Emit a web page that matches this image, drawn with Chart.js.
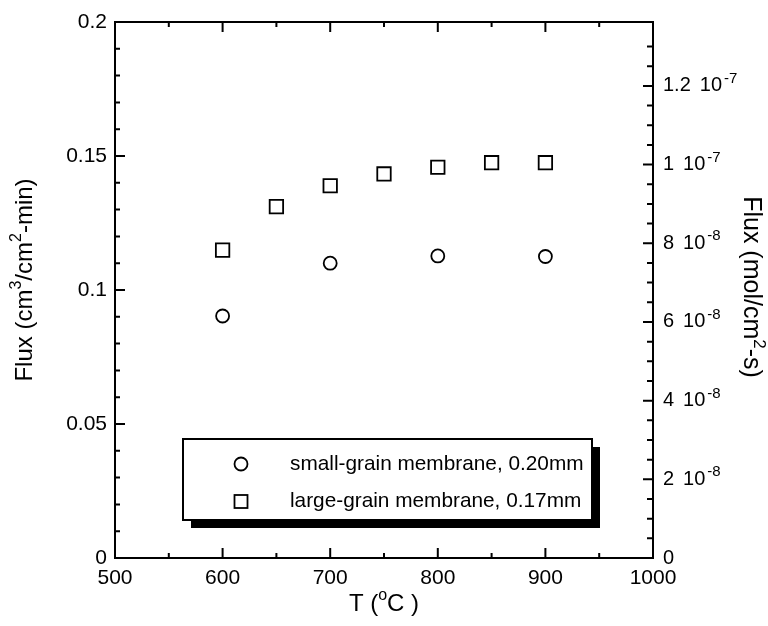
<!DOCTYPE html>
<html>
<head>
<meta charset="utf-8">
<script src="https://cdn.jsdelivr.net/npm/chart.js@4.4.1/dist/chart.umd.min.js"></script>
<style>
  html, body { margin: 0; padding: 0; background: #fff; }
  #wrap { width: 768px; height: 626px; position: relative; }
</style>
</head>
<body>
<div id="wrap"><canvas id="chart" width="768" height="626"></canvas></div>
<script>
// ----------- Data -----------
const smallTemps = [600, 700, 800, 900];
const smallFlux = [0.0903, 0.110, 0.1127, 0.1125];
const largeTemps = [600, 650, 700, 750, 800, 850, 900];
const largeFlux = [0.1149, 0.1311, 0.1389, 0.1433, 0.1458, 0.1475, 0.1475];
const legendLabels = ["small-grain membrane, 0.20mm", "large-grain membrane, 0.17mm"];
const rightTickValues = [0, 2e-8, 4e-8, 6e-8, 8e-8, 1e-7, 1.2e-7];
const rightTickMantissa = ["0", "2", "4", "6", "8", "1", "1.2"];
const rightTickExp = ["", "-8", "-8", "-8", "-8", "-7", "-7"];

// cm3(25C)/min -> mol/s
const rightMax = 0.2 / (24465 * 60);

const FONT = "'Liberation Sans', Arial, sans-serif";
const tickFont = { family: FONT, size: 21 };

const near = (v, step) => Math.abs(v / step - Math.round(v / step)) < 1e-6;

// ----------- Custom drawing: inward ticks, frame, titles, legend -----------
const framePlugin = {
  id: 'frame',
  afterDraw(chart) {
    const ctx = chart.ctx;
    const { left, right, top, bottom } = chart.chartArea;
    const xs = chart.scales.x, yl = chart.scales.y, yr = chart.scales.y2;
    ctx.save();
    ctx.strokeStyle = '#000';
    ctx.fillStyle = '#000';
    ctx.lineWidth = 2;
    ctx.strokeRect(left, top, right - left, bottom - top);

    ctx.beginPath();
    xs.ticks.forEach(t => {
      const px = xs.getPixelForValue(t.value);
      const len = near(t.value, 100) ? 10 : 5;
      ctx.moveTo(px, bottom); ctx.lineTo(px, bottom - len);
      ctx.moveTo(px, top); ctx.lineTo(px, top + len);
    });
    yl.ticks.forEach(t => {
      const py = yl.getPixelForValue(t.value);
      const len = near(t.value, 0.05) ? 10 : 5;
      ctx.moveTo(left, py); ctx.lineTo(left + len, py);
    });
    yr.ticks.forEach(t => {
      if (!near(t.value, 5e-9)) return;
      const py = yr.getPixelForValue(t.value);
      const len = near(t.value, 2e-8) ? 10 : 6;
      ctx.moveTo(right, py); ctx.lineTo(right - len, py);
    });
    ctx.stroke();

    // right tick labels with exponents
    ctx.textBaseline = 'middle';
    ctx.textAlign = 'left';
    rightTickValues.forEach((v, i) => {
      const py = yr.getPixelForValue(v);
      ctx.font = '20px ' + FONT;
      let x = right + 10;
      ctx.fillText(rightTickMantissa[i], x, py);
      if (!rightTickExp[i]) return;
      x += ctx.measureText(rightTickMantissa[i]).width + 9;
      ctx.fillText('10', x, py);
      x += ctx.measureText('10').width + 2;
      ctx.font = '15px ' + FONT;
      ctx.fillText(rightTickExp[i], x, py - 7);
    });

    // axis titles
    const drawSup = (parts, x, y, size) => {
      const sup = Math.round(size * 0.67);
      let total = 0;
      parts.forEach(p => { ctx.font = (p[1] ? sup : size) + 'px ' + FONT; total += ctx.measureText(p[0]).width; });
      let cx = x - total / 2;
      ctx.textAlign = 'left';
      parts.forEach(p => {
        ctx.font = (p[1] ? sup : size) + 'px ' + FONT;
        ctx.fillText(p[0], cx, p[1] ? y - 8 : y);
        cx += ctx.measureText(p[0]).width;
      });
    };
    drawSup([['T (', false], ['o', true], ['C )', false]], (left + right) / 2, 604, 24);

    ctx.save();
    ctx.translate(25, 280);
    ctx.rotate(-Math.PI / 2);
    drawSup([['Flux (cm', false], ['3', true], ['/cm', false], ['2', true], ['-min)', false]], 0, 0, 24);
    ctx.restore();

    ctx.save();
    ctx.translate(751, 287);
    ctx.rotate(Math.PI / 2);
    drawSup([['Flux (mol/cm', false], ['2', true], ['-s)', false]], 0, 0, 25);
    ctx.restore();

    // legend box with shadow
    const bx = 183, by = 439, bw = 409, bh = 81, sh = 8;
    ctx.fillRect(bx + sh, by + sh, bw, bh);
    ctx.fillStyle = '#fff';
    ctx.fillRect(bx, by, bw, bh);
    ctx.fillStyle = '#000';
    ctx.strokeRect(bx, by, bw, bh);
    ctx.lineWidth = 1.8;
    ctx.beginPath();
    ctx.arc(241, 464, 6.5, 0, Math.PI * 2);
    ctx.stroke();
    ctx.strokeRect(234.5, 495, 13, 13);
    ctx.font = '20.8px ' + FONT;
    ctx.textAlign = 'left';
    ctx.fillText(legendLabels[0], 290, 464);
    ctx.fillText(legendLabels[1], 290, 501.5);
    ctx.restore();
  }
};

const ctx = document.getElementById('chart').getContext('2d');
const chart = new Chart(ctx, {
  type: 'scatter',
  data: {
    datasets: [
      {
        label: legendLabels[0],
        data: smallTemps.map((t, i) => ({ x: t, y: smallFlux[i] })),
        pointStyle: 'circle',
        pointRadius: 6.5,
        borderColor: '#000',
        backgroundColor: 'rgba(0,0,0,0)',
        borderWidth: 1.8
      },
      {
        label: legendLabels[1],
        data: largeTemps.map((t, i) => ({ x: t, y: largeFlux[i] })),
        pointStyle: 'rect',
        pointRadius: 9.5,
        borderColor: '#000',
        backgroundColor: 'rgba(0,0,0,0)',
        borderWidth: 1.8
      }
    ]
  },
  options: {
    responsive: false,
    animation: false,
    layout: { padding: { top: 22, left: 0, right: 0, bottom: 0 } },
    plugins: { legend: { display: false }, tooltip: { enabled: false } },
    scales: {
      x: {
        type: 'linear',
        min: 500, max: 1000,
        grid: { display: false, drawTicks: false },
        border: { display: false },
        ticks: {
          stepSize: 50, color: '#000', font: tickFont, padding: 8, maxRotation: 0, autoSkip: false,
          callback: v => near(v, 100) ? String(v) : ''
        },
        afterFit: s => { s.height = 68; }
      },
      y: {
        position: 'left',
        min: 0, max: 0.2,
        grid: { display: false, drawTicks: false },
        border: { display: false },
        ticks: {
          stepSize: 0.01, color: '#000', font: tickFont, padding: 8, autoSkip: false,
          callback: v => near(v, 0.05) ? String(+v.toFixed(2)) : ''
        },
        afterFit: s => { s.width = 115; }
      },
      y2: {
        position: 'right',
        min: 0, max: rightMax,
        grid: { display: false, drawTicks: false },
        border: { display: false },
        ticks: { stepSize: 5e-9, display: false, autoSkip: false },
        afterFit: s => { s.width = 115; }
      }
    }
  },
  plugins: [framePlugin]
});
</script>
</body>
</html>
